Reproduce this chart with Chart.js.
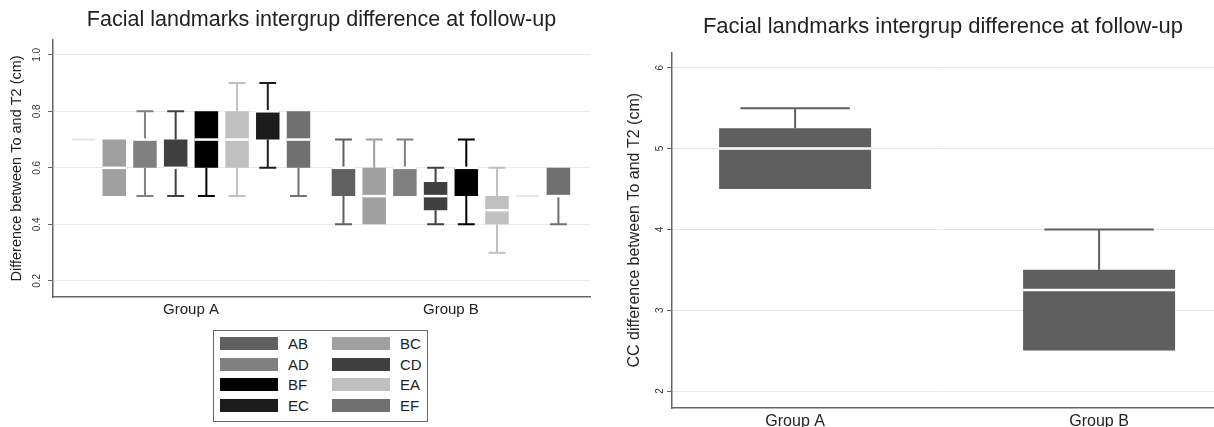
<!DOCTYPE html>
<html>
<head>
<meta charset="utf-8">
<script src="https://cdn.jsdelivr.net/npm/chart.js@4.4.1/dist/chart.umd.min.js"></script>
<style>
  html, body { margin: 0; padding: 0; background: #fff; overflow: hidden; }
  body { width: 1214px; height: 427px; position: relative; font-family: "Liberation Sans", Arial, sans-serif; color: #222; }
  #leftWrap { position: absolute; left: 0; top: 0; width: 600px; height: 325px; }
  #rightWrap { position: absolute; left: 605px; top: 0; width: 609px; height: 427px; }
  #legend {
    position: absolute; left: 213px; top: 330px; width: 215px; height: 92px;
    border: 1px solid #666; box-sizing: border-box; padding: 6px 0 0 6px;
    display: grid; grid-template-columns: 112px 100px; grid-auto-rows: 20.7px;
  }
  #legend .item { display: flex; align-items: center; height: 13px; font-size: 15px; }
  #legend .swatch { display: inline-block; width: 58px; height: 13px; margin-right: 10px; }
</style>
</head>
<body>
<div id="leftWrap"><canvas id="leftChart"></canvas></div>
<div id="legend"></div>
<div id="rightWrap"><canvas id="rightChart"></canvas></div>
<script>
const chartTitle = 'Facial landmarks intergrup difference at follow-up';

// left panel: 8 landmark pairs per group
const groups = ['Group A', 'Group B'];
const series = ['AB', 'BC', 'AD', 'CD', 'BF', 'EA', 'EC', 'EF'];
const seriesColors = ['#606060', '#a0a0a0', '#808080', '#404040', '#000000', '#c0c0c0', '#1c1c1c', '#707070'];
// each row is one series: [Group A, Group B]
const lowerWhisker  = [[0.7, 0.4], [0.5, 0.4], [0.5, 0.5], [0.5, 0.4], [0.5, 0.4], [0.5, 0.3], [0.6, 0.5], [0.5, 0.4]];
const lowerQuartile = [[0.7, 0.5], [0.5, 0.4], [0.6, 0.5], [0.6, 0.45], [0.6, 0.5], [0.6, 0.4], [0.7, 0.5], [0.6, 0.5]];
const medians       = [[0.7, 0.6], [0.6, 0.5], [0.7, 0.6], [0.6, 0.5], [0.7, 0.6], [0.7, 0.45], [0.8, 0.5], [0.7, 0.5]];
const upperQuartile = [[0.7, 0.6], [0.7, 0.6], [0.7, 0.6], [0.7, 0.55], [0.8, 0.6], [0.8, 0.5], [0.8, 0.5], [0.8, 0.6]];
const upperWhisker  = [[0.7, 0.7], [0.7, 0.7], [0.8, 0.7], [0.8, 0.6], [0.8, 0.7], [0.9, 0.6], [0.9, 0.5], [0.8, 0.6]];
const leftTicks = [0.2, 0.4, 0.6, 0.8, 1];

// right panel: CC difference
const ccGroups = ['Group A', 'Group B'];
const ccLow = [4.5, 2.5];
const ccQ1 = [4.5, 2.5];
const ccMedian = [5, 3.25];
const ccQ3 = [5.25, 3.5];
const ccHigh = [5.5, 4];
const ccColor = '#5f5f5f';
const rightTicks = [2, 3, 4, 5, 6];

const fontFamily = '"Liberation Sans", Arial, sans-serif';

// whiskers go behind the boxes, medians on top
const boxWhiskers = {
  id: 'boxWhiskers',
  beforeDatasetsDraw(chart) { drawStats(chart, 'whiskers'); },
  afterDatasetsDraw(chart) { drawStats(chart, 'median'); }
};

function drawStats(chart, part) {
  const ctx = chart.ctx;
  const yScale = chart.scales.y;
  chart.data.datasets.forEach((ds, i) => {
    const meta = chart.getDatasetMeta(i);
    meta.data.forEach((bar, j) => {
      const d = ds.data[j];
      const half = bar.width / 2;
      ctx.save();
      if (part === 'whiskers') {
        ctx.strokeStyle = ds.backgroundColor;
        ctx.lineWidth = 2;
        [[d.lo, d.y[0]], [d.hi, d.y[1]]].forEach(([end, edge]) => {
          if (end === edge) return;
          const pEnd = yScale.getPixelForValue(end);
          const pEdge = yScale.getPixelForValue(edge);
          ctx.beginPath();
          ctx.moveTo(bar.x, pEdge);
          ctx.lineTo(bar.x, pEnd);
          ctx.moveTo(bar.x - half * 0.72, pEnd);
          ctx.lineTo(bar.x + half * 0.72, pEnd);
          ctx.stroke();
        });
      } else {
        const pm = yScale.getPixelForValue(d.med);
        ctx.beginPath();
        if (d.y[0] === d.y[1]) {
          ctx.strokeStyle = '#dedede';
          ctx.lineWidth = 1.5;
        } else {
          ctx.strokeStyle = '#ffffff';
          ctx.lineWidth = 2.5;
        }
        ctx.moveTo(bar.x - half, pm);
        ctx.lineTo(bar.x + half, pm);
        ctx.stroke();
      }
      ctx.restore();
    });
  });
}

function fixTicks(values) {
  return scale => { scale.ticks = values.map(v => ({ value: v })); };
}

function yAxis(min, max, ticks, title, titleSize, titlePad, width) {
  return {
    type: 'linear',
    min: min,
    max: max,
    afterBuildTicks: fixTicks(ticks),
    afterFit: s => { s.width = width; },
    grid: { color: '#e8e8e8', lineWidth: 1, tickColor: '#666', tickLength: 5, drawTicks: true },
    border: { display: true, color: '#666', width: 1.5 },
    ticks: {
      minRotation: 90, maxRotation: 90, crossAlign: 'center', padding: 4,
      color: '#333', font: { family: fontFamily, size: 10 }
    },
    title: {
      display: true, text: title, color: '#222',
      font: { family: fontFamily, size: titleSize },
      padding: { top: titlePad, bottom: 0 }
    }
  };
}

function xAxis(min, max, labels, fontSize, height) {
  return {
    type: 'linear',
    min: min,
    max: max,
    offset: false,
    afterBuildTicks: fixTicks(labels.map((l, i) => i + 1)),
    afterFit: s => { s.height = height; },
    grid: { display: false, offset: false, drawTicks: false },
    border: { display: true, color: '#666', width: 1.5 },
    ticks: {
      padding: 4, maxRotation: 0, color: '#222',
      font: { family: fontFamily, size: fontSize },
      callback: (v, i) => labels[i]
    }
  };
}

// title centred over the plot area, as in the original
function plotTitle(size, top, bottom) {
  return {
    display: true, text: chartTitle, color: '#222', fullSize: false,
    font: { family: fontFamily, size: size, weight: 'normal' },
    padding: { top: top, bottom: bottom }
  };
}

const leftDatasets = series.map((name, i) => ({
  label: name,
  backgroundColor: seriesColors[i],
  borderWidth: 0,
  categoryPercentage: 0.945,
  barPercentage: 0.765,
  data: groups.map((g, j) => ({
    x: j + 1,
    y: [lowerQuartile[i][j], upperQuartile[i][j]],
    lo: lowerWhisker[i][j],
    med: medians[i][j],
    hi: upperWhisker[i][j]
  }))
}));

const leftChart = new Chart(document.getElementById('leftChart'), {
  type: 'bar',
  data: { datasets: leftDatasets },
  options: {
    responsive: true,
    maintainAspectRatio: false,
    animation: false,
    layout: { padding: { left: 0, right: 10, top: 0, bottom: 0 } },
    plugins: {
      legend: { display: false },
      tooltip: { enabled: false },
      title: plotTitle(21.5, 7, 7)
    },
    scales: {
      x: xAxis(0.469, 2.535, groups, 15, 28),
      y: yAxis(0.143, 1.053, leftTicks, 'Difference between To and T2 (cm)', 14.5, 8, 53)
    }
  },
  plugins: [boxWhiskers]
});

// legend below the left panel, filled row by row like the original
const legendEl = document.getElementById('legend');
leftChart.data.datasets.forEach(ds => {
  const item = document.createElement('div');
  item.className = 'item';
  item.innerHTML = `<span class="swatch" style="background:${ds.backgroundColor}"></span><span>${ds.label}</span>`;
  legendEl.appendChild(item);
});

new Chart(document.getElementById('rightChart'), {
  type: 'bar',
  data: {
    datasets: [{
      label: 'CC',
      backgroundColor: ccColor,
      borderWidth: 0,
      categoryPercentage: 1,
      barPercentage: 0.5,
      data: ccGroups.map((g, j) => ({
        x: j + 1,
        y: [ccQ1[j], ccQ3[j]],
        lo: ccLow[j],
        med: ccMedian[j],
        hi: ccHigh[j]
      }))
    }]
  },
  options: {
    responsive: true,
    maintainAspectRatio: false,
    animation: false,
    layout: { padding: 0 },
    plugins: {
      legend: { display: false },
      tooltip: { enabled: false },
      title: plotTitle(22, 14, 12)
    },
    scales: {
      x: xAxis(0.595, 2.378, ccGroups, 16, 19),
      y: yAxis(1.79, 6.19, rightTicks, 'CC difference between To and T2 (cm)', 16, 20, 67)
    }
  },
  plugins: [boxWhiskers]
});
</script>
</body>
</html>
